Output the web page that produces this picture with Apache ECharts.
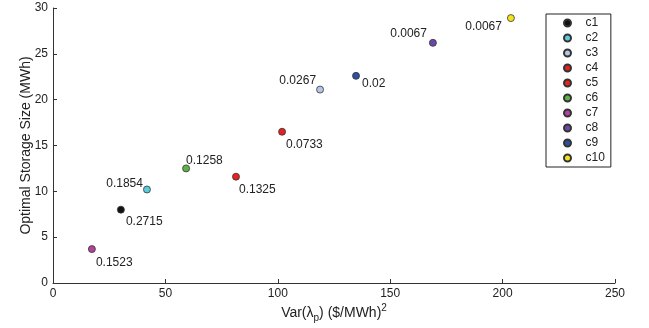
<!DOCTYPE html>
<html>
<head>
<meta charset="utf-8">
<script src="https://cdn.jsdelivr.net/npm/echarts@6/dist/echarts.min.js"></script>
<style>
  html, body { margin: 0; padding: 0; background: #fff; }
  #chart { width: 649px; height: 328px; }
</style>
</head>
<body>
<div id="chart"></div>
<script>
// cluster names and their points
const names = ['c1', 'c2', 'c3', 'c4', 'c5', 'c6', 'c7', 'c8', 'c9', 'c10'];
const xVar = [30.2, 41.8, 118.8, 101.9, 81.4, 59.2, 17.3, 169.0, 134.8, 203.7];
const yStorage = [8.0, 10.2, 21.1, 16.5, 11.6, 12.5, 3.7, 26.2, 22.6, 28.9];
const labels = ['0.2715', '0.1854', '0.0267', '0.0733', '0.1325', '0.1258', '0.1523', '0.0067', '0.02', '0.0067'];

const colors = ['#111111', '#5ccbdd', '#b3c6e6', '#e3211f', '#e8221f', '#5fb247', '#b1449a', '#6a48a6', '#2d4f9f', '#f2e41b'];
// label anchor: [align, dx, dy]
const labelPlace = [
  ['left', 5, 12], ['right', -4, -6], ['right', -4, -9], ['left', 4, 13], ['left', 3, 13],
  ['left', 0, -8], ['left', 4, 14], ['right', -6, -9], ['left', 6, 8], ['right', -9, 9]
];

const font = 'Liberation Sans, Arial, sans-serif';
const chart = echarts.init(document.getElementById('chart'));

const series = names.map((n, i) => ({
  name: n,
  type: 'scatter',
  data: [[xVar[i], yStorage[i]]],
  symbol: 'circle',
  symbolSize: 7,
  itemStyle: { color: colors[i], borderColor: '#333', borderWidth: 0.8, opacity: 1 },
  label: {
    show: true,
    position: 'inside',
    align: labelPlace[i][0],
    verticalAlign: 'middle',
    offset: [labelPlace[i][1], labelPlace[i][2]],
    formatter: () => labels[i],
    color: '#222',
    fontSize: 12,
    fontFamily: font
  },
  emphasis: { disabled: true }
}));

chart.setOption({
  animation: false,
  backgroundColor: '#fff',
  textStyle: { fontFamily: font },
  grid: { left: 53, right: 34, top: 8, bottom: 44 },
  legend: {
    orient: 'vertical',
    left: 546,
    top: 14,
    padding: [3, 6, 3, 17],
    itemGap: 3,
    itemWidth: 26,
    itemHeight: 7,
    icon: 'circle',
    borderColor: '#222',
    borderWidth: 1,
    data: names,
    textStyle: { fontSize: 12, color: '#222', fontFamily: font }
  },
  xAxis: {
    type: 'value',
    min: 0, max: 250, interval: 50,
    name: 'Var(λ{sub|p}) ($/MWh){sup|2}',
    nameLocation: 'middle',
    nameGap: 20,
    nameMoveOverlap: false,
    nameTextStyle: {
      fontSize: 14, color: '#222', fontFamily: font,
      rich: {
        sub: { fontSize: 10, verticalAlign: 'bottom', padding: [10, 0, 0, 0], fontFamily: font, color: '#222' },
        sup: { fontSize: 10, verticalAlign: 'top', padding: [0, 0, 10, 0], fontFamily: font, color: '#222' }
      }
    },
    axisLine: { lineStyle: { color: '#333', width: 1 } },
    axisTick: { inside: true, length: 4, lineStyle: { color: '#333' } },
    axisLabel: { color: '#222', fontSize: 12, margin: 5 },
    splitLine: { show: false }
  },
  yAxis: {
    type: 'value',
    min: 0, max: 30, interval: 5,
    name: 'Optimal Storage Size (MWh)',
    nameLocation: 'middle',
    nameGap: 20,
    nameMoveOverlap: false,
    nameTextStyle: { fontSize: 14, color: '#222', fontFamily: font },
    axisLine: { show: true, lineStyle: { color: '#333', width: 1 } },
    axisTick: { show: true, inside: true, length: 4, lineStyle: { color: '#333' } },
    axisLabel: { color: '#222', fontSize: 12, margin: 5 },
    splitLine: { show: false }
  },
  series: series
});
</script>
</body>
</html>
